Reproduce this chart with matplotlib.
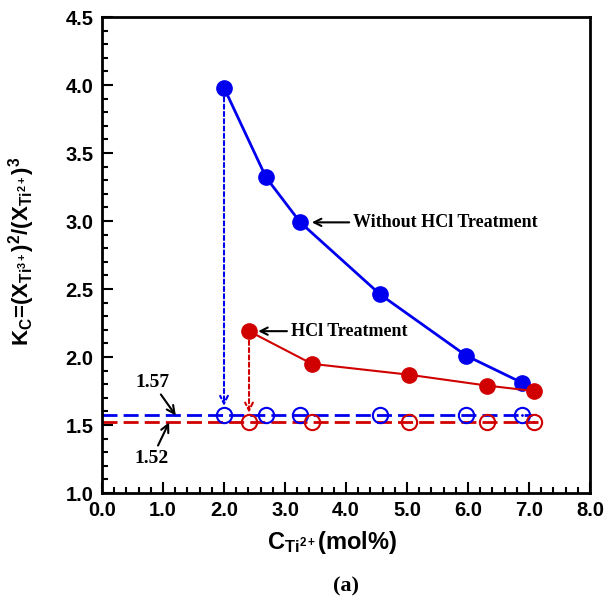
import matplotlib
matplotlib.use("Agg")
import matplotlib.pyplot as plt
from matplotlib.ticker import MultipleLocator, FormatStrFormatter

plt.rcParams['font.family'] = ['Liberation Sans', 'DejaVu Sans']
plt.rcParams['font.weight'] = 'bold'
plt.rcParams['mathtext.fontset'] = 'custom'
plt.rcParams['mathtext.rm'] = 'Liberation Sans:bold'
plt.rcParams['mathtext.it'] = 'Liberation Sans:bold'
plt.rcParams['mathtext.bf'] = 'Liberation Sans:bold'

# Data
x_without = [2.0, 2.69, 3.25, 4.56, 5.97, 6.89]
k_without = [3.98, 3.32, 2.99, 2.46, 2.01, 1.81]
x_hcl = [2.41, 3.44, 5.03, 6.31, 7.08]
k_hcl = [2.19, 1.95, 1.87, 1.79, 1.75]
eq_without = 1.57
eq_hcl = 1.52

blue = '#0000ee'
red = '#d00000'

fig = plt.figure(figsize=(6.13, 6.03), dpi=100)
ax = fig.add_axes([0.1664, 0.1824, 0.7961, 0.7894])

# equilibrium dashed lines
ax.plot([0, 7.05], [eq_without, eq_without], color=blue, lw=2, dashes=(5.4, 2.2), zorder=2)
ax.plot([0, 7.15], [eq_hcl, eq_hcl], color=red, lw=2, dashes=(5.4, 2.2), zorder=2)

# open circles at equilibrium
ax.plot(x_without, [eq_without]*len(x_without), 'o', mfc='none', mec=blue, ms=11, mew=1.5, zorder=3)
ax.plot(x_hcl, [eq_hcl]*len(x_hcl), 'o', mfc='none', mec=red, ms=11, mew=1.5, zorder=3)
ax.plot([x_without[-1]], [eq_without], '.', color=blue, ms=2)
ax.plot([x_hcl[-1]], [eq_hcl], '.', color=red, ms=2)

# main series
ax.plot(x_without, k_without, '-o', color=blue, lw=2, ms=11, zorder=4)
ax.plot(x_hcl, k_hcl, '-o', color=red, lw=1.5, ms=11, zorder=4)

# vertical dotted arrows
ax.annotate('', xy=(x_without[0], eq_without + 0.05), xytext=(x_without[0], k_without[0] - 0.05),
            arrowprops=dict(arrowstyle='->', color=blue, lw=1.5, linestyle=(0, (2, 1.5)), mutation_scale=14))
ax.annotate('', xy=(x_hcl[0], eq_hcl + 0.05), xytext=(x_hcl[0], k_hcl[0] - 0.05),
            arrowprops=dict(arrowstyle='->', color=red, lw=1.5, linestyle=(0, (2, 1.5)), mutation_scale=14))

# text annotations
ax.annotate('Without HCl Treatment', xy=(3.44, 2.99), xytext=(4.12, 2.99),
            fontsize=13, fontweight='bold', family='Liberation Serif', va='center', ha='left',
            arrowprops=dict(arrowstyle='->', color='black', lw=1.5, shrinkA=1, shrinkB=0))
ax.annotate('HCl Treatment', xy=(2.56, 2.19), xytext=(3.1, 2.19),
            fontsize=13, fontweight='bold', family='Liberation Serif', va='center', ha='left',
            arrowprops=dict(arrowstyle='->', color='black', lw=1.5, shrinkA=1, shrinkB=0))
ax.annotate('1.57', xy=(1.21, eq_without), xytext=(0.82, 1.816),
            fontsize=14, fontweight='bold', family='Liberation Serif', va='center', ha='center',
            arrowprops=dict(arrowstyle='->', color='black', lw=1.5, shrinkA=1, shrinkB=0))
ax.annotate('1.52', xy=(1.10, eq_hcl), xytext=(0.82, 1.257),
            fontsize=14, fontweight='bold', family='Liberation Serif', va='center', ha='center',
            arrowprops=dict(arrowstyle='->', color='black', lw=1.5, shrinkA=1, shrinkB=0))

ax.set_xlim(0, 8)
ax.set_ylim(1.0, 4.5)
ax.xaxis.set_major_locator(MultipleLocator(1))
ax.xaxis.set_minor_locator(MultipleLocator(0.2))
ax.yaxis.set_major_locator(MultipleLocator(0.5))
ax.yaxis.set_minor_locator(MultipleLocator(0.1))
ax.xaxis.set_major_formatter(FormatStrFormatter('%.1f'))
ax.yaxis.set_major_formatter(FormatStrFormatter('%.1f'))
ax.tick_params(which='both', direction='in', width=1.5, labelsize=14.5)
ax.tick_params(which='major', length=8)
ax.tick_params(which='minor', length=4)
ax.tick_params(axis='x', pad=6)
ax.tick_params(axis='y', pad=6)
for lab in ax.get_xticklabels() + ax.get_yticklabels():
    lab.set_fontweight('bold')
for s in ax.spines.values():
    s.set_linewidth(2)

ax.set_ylabel(r'K$_{\mathregular{C}}$=(X$_{\mathregular{Ti}^{3+}}$)$^2$/(X$_{\mathregular{Ti}^{2+}}$)$^3$',
              fontsize=16, fontweight='bold')
ax.yaxis.set_label_coords(-0.133, 0.508)
ax.set_xlabel(r'C$_{\mathregular{Ti}^{2+}}$(mol%)', fontsize=17, fontweight='bold')
ax.xaxis.set_label_coords(0.471, -0.075)
fig.text(0.5 * (0.1664 + 0.9625), 0.028, '(a)', ha='center', va='center', fontsize=16,
         fontweight='bold', family='Liberation Serif')

fig.savefig('out.png', dpi=100)
